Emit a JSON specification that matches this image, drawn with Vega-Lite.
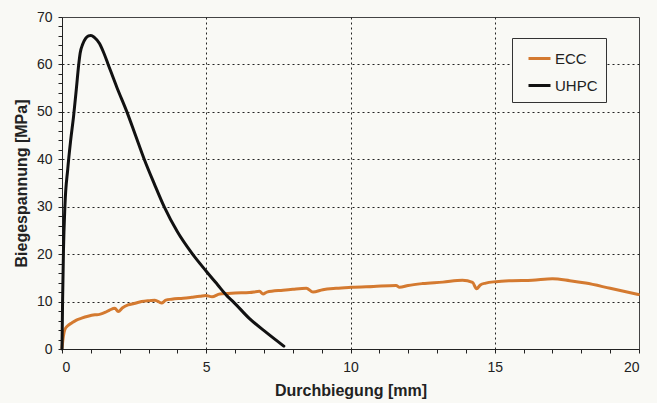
{
  "$schema": "https://vega.github.io/schema/vega-lite/v6.json",
  "width": 577,
  "height": 332,
  "autosize": {"type": "none"},
  "padding": {"left": 62, "top": 17, "right": 18, "bottom": 54},
  "background": "#f9f9f5",
  "config": {
    "font": "Liberation Sans",
    "view": {"stroke": "#444", "strokeWidth": 1},
    "axis": {
      "labelFont": "Liberation Sans",
      "labelFontSize": 14,
      "labelColor": "#222",
      "titleFont": "Liberation Sans",
      "titleFontSize": 16,
      "titleFontWeight": "bold",
      "titleColor": "#222",
      "domainColor": "#222",
      "tickColor": "#222",
      "tickSize": 4,
      "labelPadding": 6,
      "gridColor": "#222",
      "gridDash": [2, 3],
      "gridWidth": 1,
      "labelOverlap": false
    }
  },
  "data": {
    "values": [
      {"series": "ECC", "x": 0, "y": 0.2},
      {"series": "ECC", "x": 0.05, "y": 2.8},
      {"series": "ECC", "x": 0.1, "y": 4.1},
      {"series": "ECC", "x": 0.2, "y": 4.9},
      {"series": "ECC", "x": 0.34, "y": 5.5},
      {"series": "ECC", "x": 0.5, "y": 6.1},
      {"series": "ECC", "x": 0.68, "y": 6.5},
      {"series": "ECC", "x": 0.9, "y": 6.9},
      {"series": "ECC", "x": 1.14, "y": 7.2},
      {"series": "ECC", "x": 1.3, "y": 7.3},
      {"series": "ECC", "x": 1.49, "y": 7.7},
      {"series": "ECC", "x": 1.65, "y": 8.2},
      {"series": "ECC", "x": 1.83, "y": 8.6},
      {"series": "ECC", "x": 1.95, "y": 7.9},
      {"series": "ECC", "x": 2.1, "y": 8.7},
      {"series": "ECC", "x": 2.29, "y": 9.3},
      {"series": "ECC", "x": 2.5, "y": 9.6},
      {"series": "ECC", "x": 2.76, "y": 10.0},
      {"series": "ECC", "x": 3.04, "y": 10.2},
      {"series": "ECC", "x": 3.22, "y": 10.3},
      {"series": "ECC", "x": 3.45, "y": 9.7},
      {"series": "ECC", "x": 3.6, "y": 10.3},
      {"series": "ECC", "x": 3.8, "y": 10.5},
      {"series": "ECC", "x": 4.2, "y": 10.7},
      {"series": "ECC", "x": 4.5, "y": 10.9},
      {"series": "ECC", "x": 4.78, "y": 11.1},
      {"series": "ECC", "x": 4.98, "y": 11.3},
      {"series": "ECC", "x": 5.2, "y": 11.0},
      {"series": "ECC", "x": 5.47, "y": 11.6},
      {"series": "ECC", "x": 6.0, "y": 11.8},
      {"series": "ECC", "x": 6.5, "y": 11.9},
      {"series": "ECC", "x": 6.85, "y": 12.15},
      {"series": "ECC", "x": 6.97, "y": 11.6},
      {"series": "ECC", "x": 7.1, "y": 12.0},
      {"series": "ECC", "x": 7.66, "y": 12.4},
      {"series": "ECC", "x": 8.0, "y": 12.6},
      {"series": "ECC", "x": 8.47, "y": 12.8},
      {"series": "ECC", "x": 8.7, "y": 12.0},
      {"series": "ECC", "x": 9.04, "y": 12.5},
      {"series": "ECC", "x": 9.5, "y": 12.8},
      {"series": "ECC", "x": 10.02, "y": 13.0},
      {"series": "ECC", "x": 10.8, "y": 13.2},
      {"series": "ECC", "x": 11.58, "y": 13.4},
      {"series": "ECC", "x": 11.7, "y": 13.0},
      {"series": "ECC", "x": 12.0, "y": 13.4},
      {"series": "ECC", "x": 12.5, "y": 13.8},
      {"series": "ECC", "x": 13.2, "y": 14.1},
      {"series": "ECC", "x": 13.88, "y": 14.5},
      {"series": "ECC", "x": 14.23, "y": 14.05},
      {"series": "ECC", "x": 14.37, "y": 12.7},
      {"series": "ECC", "x": 14.5, "y": 13.5},
      {"series": "ECC", "x": 14.69, "y": 13.9},
      {"series": "ECC", "x": 15.04, "y": 14.2},
      {"series": "ECC", "x": 15.6, "y": 14.4},
      {"series": "ECC", "x": 16.3, "y": 14.5},
      {"series": "ECC", "x": 17.0, "y": 14.8},
      {"series": "ECC", "x": 17.6, "y": 14.4},
      {"series": "ECC", "x": 18.15, "y": 13.9},
      {"series": "ECC", "x": 19.0, "y": 12.8},
      {"series": "ECC", "x": 19.98, "y": 11.5},
      {"series": "UHPC", "x": 0, "y": 0},
      {"series": "UHPC", "x": 0.02, "y": 10},
      {"series": "UHPC", "x": 0.05, "y": 20.5},
      {"series": "UHPC", "x": 0.1, "y": 30},
      {"series": "UHPC", "x": 0.2, "y": 38},
      {"series": "UHPC", "x": 0.3, "y": 44},
      {"series": "UHPC", "x": 0.4, "y": 49},
      {"series": "UHPC", "x": 0.5, "y": 55},
      {"series": "UHPC", "x": 0.58, "y": 60},
      {"series": "UHPC", "x": 0.63, "y": 62.4},
      {"series": "UHPC", "x": 0.72, "y": 64.3},
      {"series": "UHPC", "x": 0.82, "y": 65.5},
      {"series": "UHPC", "x": 0.92, "y": 66.0},
      {"series": "UHPC", "x": 1.0, "y": 66.1},
      {"series": "UHPC", "x": 1.12, "y": 65.7},
      {"series": "UHPC", "x": 1.3, "y": 64.4},
      {"series": "UHPC", "x": 1.45, "y": 62.4},
      {"series": "UHPC", "x": 1.6, "y": 60},
      {"series": "UHPC", "x": 1.9, "y": 55.2},
      {"series": "UHPC", "x": 2.25, "y": 50},
      {"series": "UHPC", "x": 2.55, "y": 45},
      {"series": "UHPC", "x": 2.85, "y": 40},
      {"series": "UHPC", "x": 3.2, "y": 34.8},
      {"series": "UHPC", "x": 3.54, "y": 30},
      {"series": "UHPC", "x": 4.0, "y": 24.7},
      {"series": "UHPC", "x": 4.5, "y": 20.2},
      {"series": "UHPC", "x": 5.0, "y": 16.4},
      {"series": "UHPC", "x": 5.4, "y": 13.5},
      {"series": "UHPC", "x": 5.72, "y": 11.2},
      {"series": "UHPC", "x": 5.93, "y": 10},
      {"series": "UHPC", "x": 6.5, "y": 6.4},
      {"series": "UHPC", "x": 7.1, "y": 3.4},
      {"series": "UHPC", "x": 7.69, "y": 0.6}
    ]
  },
  "mark": {"type": "line", "strokeWidth": 3, "strokeJoin": "round", "strokeCap": "round", "interpolate": "monotone"},
  "encoding": {
    "x": {
      "field": "x",
      "type": "quantitative",
      "scale": {"domain": [0, 20], "nice": false},
      "axis": {
        "title": "Durchbiegung [mm]",
        "values": [0,1,2,3,4,5,6,7,8,9,10,11,12,13,14,15,16,17,18,19,20],
        "labelExpr": "datum.value % 5 === 0 ? datum.label : ''",
        "gridOpacity": {"condition": {"test": "datum.value % 5 === 0 && datum.value > 0 && datum.value < 20", "value": 1}, "value": 0},
        "titlePadding": 8,
        "labelPadding": 7
      }
    },
    "y": {
      "field": "y",
      "type": "quantitative",
      "scale": {"domain": [0, 70], "nice": false},
      "axis": {
        "title": "Biegespannung [MPa]",
        "values": [0,2,4,6,8,10,12,14,16,18,20,22,24,26,28,30,32,34,36,38,40,42,44,46,48,50,52,54,56,58,60,62,64,66,68,70],
        "labelExpr": "datum.value % 10 === 0 ? datum.label : ''",
        "gridOpacity": {"condition": {"test": "datum.value % 10 === 0 && datum.value > 0 && datum.value < 70", "value": 1}, "value": 0},
        "titlePadding": 7
      }
    },
    "color": {
      "field": "series",
      "type": "nominal",
      "scale": {"domain": ["ECC", "UHPC"], "range": ["#d47a30", "#111111"]},
      "legend": {
        "title": null,
        "orient": "none",
        "legendX": 450,
        "legendY": 21,
        "padding": 8,
        "symbolType": "stroke",
        "symbolSize": 484,
        "symbolStrokeWidth": 3,
        "symbolOffset": 7,
        "labelOffset": 3,
        "labelFontSize": 15,
        "labelFont": "Liberation Sans",
        "labelColor": "#222",
        "rowPadding": 6,
        "strokeColor": "#333",
        "fillColor": "#f9f9f5"
      }
    }
  }
}
